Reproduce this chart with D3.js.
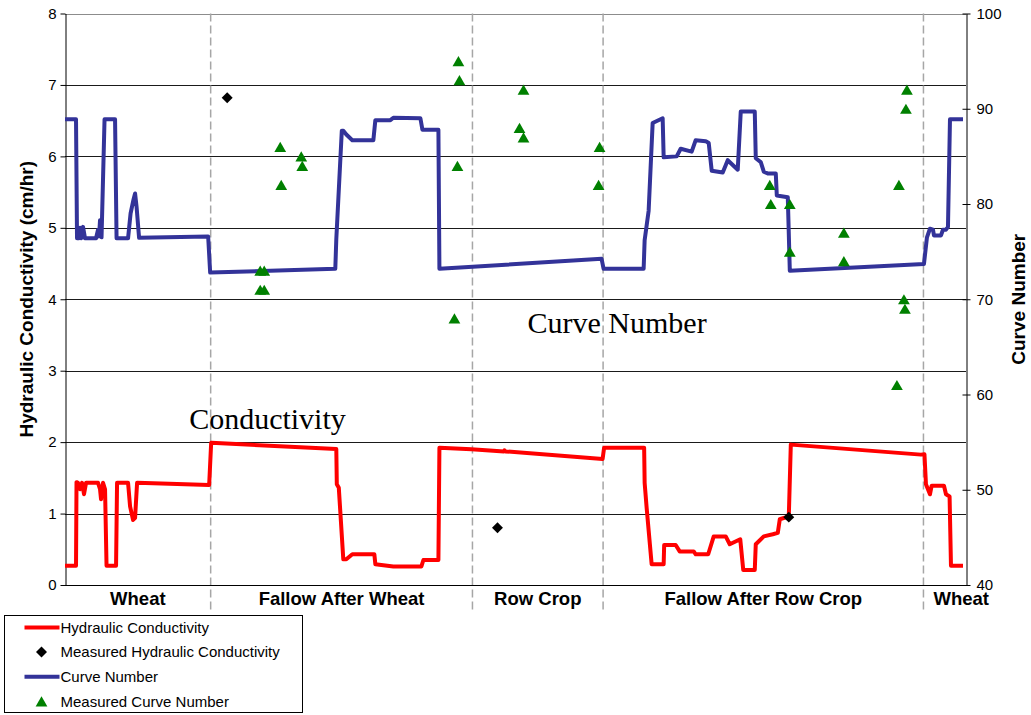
<!DOCTYPE html>
<html>
<head>
<meta charset="utf-8">
<script src="https://cdn.jsdelivr.net/npm/d3@7"></script>
<style>
  body { margin: 0; background: #fff; }
  svg { display: block; font-family: Arial, "Liberation Sans", sans-serif; }
</style>
</head>
<body>
<svg id="chart" width="1031" height="715"></svg>
<script>
// Crop periods (day of record where each period ends)
const periodNames = ['Wheat', 'Fallow After Wheat', 'Row Crop', 'Fallow After Row Crop', 'Wheat'];
const periodBreaks = [145.5, 407, 537.5, 857.5];
const recordLength = 900;

const kTicks = [0, 1, 2, 3, 4, 5, 6, 7, 8];
const cnTicks = [40, 50, 60, 70, 80, 90, 100];

// Simulated hydraulic conductivity, [day, cm/hr]
const conductivity = [
  [0, 0.27], [11, 0.27], [11.5, 1.44], [13, 1.43], [15, 1.34], [17, 1.43], [19, 1.27], [21, 1.43],
  [33, 1.43], [35, 1.34], [36, 1.2], [38, 1.43], [40, 1.34], [41.5, 0.27], [51, 0.27], [52, 1.43],
  [63, 1.43], [65, 1.1], [68, 0.91], [70, 0.94], [72, 1.43], [144, 1.4], [146, 1.99], [271, 1.905],
  [271.5, 1.41], [273.5, 1.36], [278, 0.36], [281, 0.36], [287, 0.43], [309, 0.43], [310, 0.29],
  [328, 0.26], [356, 0.26], [358, 0.35], [373, 0.35], [374, 1.92], [406, 1.9], [438.5, 1.87],
  [439, 1.885], [440, 1.87], [537, 1.765], [538.5, 1.92], [578.5, 1.92], [579, 1.43], [581, 1.08],
  [586, 0.29], [598, 0.29], [598.5, 0.56], [610, 0.56], [614, 0.47], [628, 0.47], [630, 0.43],
  [642.5, 0.43], [648, 0.68], [660, 0.68], [664, 0.57], [674.5, 0.64], [677.5, 0.21], [689, 0.21],
  [690, 0.57], [698, 0.68], [707, 0.71], [712, 0.73], [714, 0.92], [723, 0.96], [725, 1.965],
  [855, 1.825], [858.5, 1.83], [860, 1.41], [864, 1.27], [865.7, 1.39], [878, 1.39], [880, 1.27],
  [883.6, 1.24], [885, 0.27], [897, 0.27]
];

// Simulated curve number, [day, CN]
const curveNumber = [
  [0, 88.9], [11, 88.9], [12, 76.4], [14, 76.4], [15, 77.5], [16, 76.4], [18, 77.6], [20, 76.4],
  [31, 76.4], [33, 77.3], [34, 76.6], [35, 78.3], [36.5, 76.5], [39.5, 88.9], [50, 88.9],
  [51.5, 76.4], [63, 76.4], [65.5, 79.0], [68.5, 80.5], [70, 81.1], [71.5, 79.7], [74, 76.45],
  [143, 76.6], [145, 72.8], [270, 73.2], [271, 76.3], [276.5, 87.7], [278, 87.7], [281, 87.3],
  [287, 86.7], [308, 86.7], [310, 88.8], [325, 88.8], [328, 89.05], [355, 89.0], [357, 87.8],
  [373, 87.8], [374, 73.2], [536, 74.25], [538, 73.2], [578, 73.2], [579, 76.2], [583, 79.3],
  [587, 88.5], [597, 89.0], [598, 84.9], [611, 85.0], [615, 85.8], [626, 85.5], [630, 86.7],
  [640, 86.6], [643, 86.4], [646, 83.5], [657, 83.3], [662, 84.6], [672, 83.6], [675, 89.7],
  [689, 89.7], [690, 84.8], [695, 84.4], [698, 83.4], [702, 83.2], [710, 83.2], [711, 80.9],
  [722, 80.7], [724, 73.0], [858, 73.7], [861, 76.5], [864, 77.4], [867, 77.3], [868, 76.7],
  [875, 76.7], [877, 77.3], [880, 77.3], [882, 77.6], [884, 88.9], [897, 88.9]
];

// Measurements
const measuredK = [[162, 6.82], [432, 0.80], [723, 0.95]];
const measuredCN = [
  [195, 73], [199, 73], [195, 71], [199, 71], [215, 86], [216, 82], [236, 85], [237, 84],
  [393, 95], [394, 93], [392, 84], [389, 68], [458, 92], [454, 88], [458, 87], [534, 86],
  [533, 82], [704, 82], [705, 80], [724, 80], [724, 75], [778, 77], [778, 74], [833, 82],
  [841, 92], [840, 90], [838, 70], [839, 69], [831, 61]
];

// Annotation anchors, [day, value on own axis]
const kNote = [124, 2.19];
const cnNote = [462, 66.5];

const RED = '#ff0000', BLUE = '#333399', GREEN = '#008000';

let svg = d3.select('#chart');

const plotLeft = 65, plotRight = 966, plotTop = 13.5, plotBottom = 585;

// Scales
let xScale = d3.scaleLinear().domain([0, recordLength]).range([plotLeft, plotRight]);
let yK = d3.scaleLinear().domain([0, 8]).range([plotBottom, plotTop]);
let yCN = d3.scaleLinear().domain([40, 100]).range([plotBottom, plotTop]);

// Gridlines
svg.append('g')
  .selectAll('line')
  .data(kTicks.slice(1, -1))
  .enter()
  .append('line')
  .attr('x1', plotLeft).attr('x2', plotRight)
  .attr('y1', d => Math.round(yK(d)) + 0.5)
  .attr('y2', d => Math.round(yK(d)) + 0.5)
  .attr('stroke', '#1a1a1a')
  .attr('stroke-width', 1);

// Top border of plot area
svg.append('line')
  .attr('x1', plotLeft).attr('x2', plotRight)
  .attr('y1', Math.round(plotTop) + 0.5).attr('y2', Math.round(plotTop) + 0.5)
  .attr('stroke', '#8c8c8c');

// Period separators
svg.append('g')
  .selectAll('line')
  .data(periodBreaks)
  .enter()
  .append('line')
  .attr('x1', d => xScale(d)).attr('x2', d => xScale(d))
  .attr('y1', plotTop).attr('y2', 613)
  .attr('stroke', '#a6a6a6')
  .attr('stroke-width', 1.5)
  .attr('stroke-dasharray', '8,4');

// Period labels
let bounds = [0, ...periodBreaks, recordLength];
svg.append('g')
  .selectAll('text')
  .data(periodNames)
  .enter()
  .append('text')
  .text(d => d)
  .attr('x', (d, i) => i == periodNames.length - 1 ? xScale(bounds[i]) + 10 : xScale((bounds[i] + bounds[i + 1]) / 2))
  .attr('y', 605)
  .attr('text-anchor', (d, i) => i == periodNames.length - 1 ? 'start' : 'middle')
  .style('font-size', '18.5px')
  .style('font-weight', 'bold');

// Bottom axis line
svg.append('line')
  .attr('x1', plotLeft).attr('x2', plotRight)
  .attr('y1', plotBottom + 0.5).attr('y2', plotBottom + 0.5)
  .attr('stroke', '#000');

// Left axis
let leftAxis = svg.append('g')
  .attr('transform', `translate(${plotLeft + 0.5}, 0)`)
  .call(d3.axisLeft(yK).tickValues(kTicks).tickSize(5).tickSizeOuter(0).tickPadding(4).tickFormat(d3.format('d')));

// Right axis with crossing ticks
let rightAxis = svg.append('g')
  .attr('transform', `translate(${plotRight + 0.5}, 0)`)
  .call(d3.axisRight(yCN).tickValues(cnTicks).tickSize(4).tickSizeOuter(0).tickPadding(6));
rightAxis.selectAll('.tick line').attr('x1', -4);

[leftAxis, rightAxis].forEach(a => {
  a.select('.domain').attr('stroke', '#000');
  a.selectAll('.tick line').attr('stroke', '#000');
  a.selectAll('.tick text')
    .attr('fill', '#000')
    .style('font-size', '15px')
    .style('font-family', 'Arial, "Liberation Sans", sans-serif');
});

// Axis titles
svg.append('text')
  .text('Hydraulic Conductivity (cm/hr)')
  .attr('text-anchor', 'middle')
  .attr('transform', `translate(33, ${(plotTop + plotBottom) / 2}) rotate(-90)`)
  .style('font-size', '19px')
  .style('font-weight', 'bold');

svg.append('text')
  .text('Curve Number')
  .attr('text-anchor', 'middle')
  .attr('transform', `translate(1025, ${(plotTop + plotBottom) / 2}) rotate(-90)`)
  .style('font-size', '19px')
  .style('font-weight', 'bold');

// Lines
let kLine = d3.line().x(d => xScale(d[0])).y(d => yK(d[1]));
let cnLine = d3.line().x(d => xScale(d[0])).y(d => yCN(d[1]));

svg.append('path')
  .datum(conductivity)
  .attr('d', kLine)
  .attr('fill', 'none')
  .attr('stroke', RED)
  .attr('stroke-width', 4)
  .attr('stroke-linejoin', 'round');

svg.append('path')
  .datum(curveNumber)
  .attr('d', cnLine)
  .attr('fill', 'none')
  .attr('stroke', BLUE)
  .attr('stroke-width', 4)
  .attr('stroke-linejoin', 'round');

// Markers
const diamond = d3.symbol().type(d3.symbolSquare).size(60);
const triangle = d3.symbol().type(d3.symbolTriangle).size(60);

svg.append('g')
  .selectAll('path')
  .data(measuredK)
  .enter()
  .append('path')
  .attr('d', diamond)
  .attr('fill', '#000')
  .attr('transform', d => `translate(${xScale(d[0])}, ${yK(d[1])}) rotate(45)`);

svg.append('g')
  .selectAll('path')
  .data(measuredCN)
  .enter()
  .append('path')
  .attr('d', triangle)
  .attr('fill', GREEN)
  .attr('transform', d => `translate(${xScale(d[0])}, ${yCN(d[1]) + 1.7})`);

// In-plot annotations
svg.append('text')
  .text('Conductivity')
  .attr('x', xScale(kNote[0]))
  .attr('y', yK(kNote[1]))
  .style('font-family', '"Liberation Serif", "Times New Roman", serif')
  .style('font-size', '30px');

svg.append('text')
  .text('Curve Number')
  .attr('x', xScale(cnNote[0]))
  .attr('y', yCN(cnNote[1]))
  .style('font-family', '"Liberation Serif", "Times New Roman", serif')
  .style('font-size', '30px');

// Legend
let legend = svg.append('g').attr('transform', 'translate(4.5, 615.5)');

legend.append('rect')
  .attr('width', 298)
  .attr('height', 97)
  .attr('fill', '#fff')
  .attr('stroke', '#000');

const legendItems = [
  { label: 'Hydraulic Conductivity', type: 'line', color: RED },
  { label: 'Measured Hydraulic Conductivity', type: 'diamond', color: '#000' },
  { label: 'Curve Number', type: 'line', color: BLUE },
  { label: 'Measured Curve Number', type: 'triangle', color: GREEN }
];

let item = legend.selectAll('.item')
  .data(legendItems)
  .enter()
  .append('g')
  .attr('class', 'item')
  .attr('transform', (d, i) => `translate(0, ${12 + i * 24.6})`);

item.filter(d => d.type == 'line')
  .append('line')
  .attr('x1', 20).attr('x2', 55)
  .attr('stroke', d => d.color)
  .attr('stroke-width', 4);

item.filter(d => d.type == 'diamond')
  .append('path')
  .attr('d', diamond)
  .attr('fill', d => d.color)
  .attr('transform', 'translate(37, 0) rotate(45)');

item.filter(d => d.type == 'triangle')
  .append('path')
  .attr('d', triangle)
  .attr('fill', d => d.color)
  .attr('transform', 'translate(37, 1.7)');

item.append('text')
  .text(d => d.label)
  .attr('x', 56)
  .attr('dy', '0.35em')
  .style('font-size', '15px');
</script>
</body>
</html>
